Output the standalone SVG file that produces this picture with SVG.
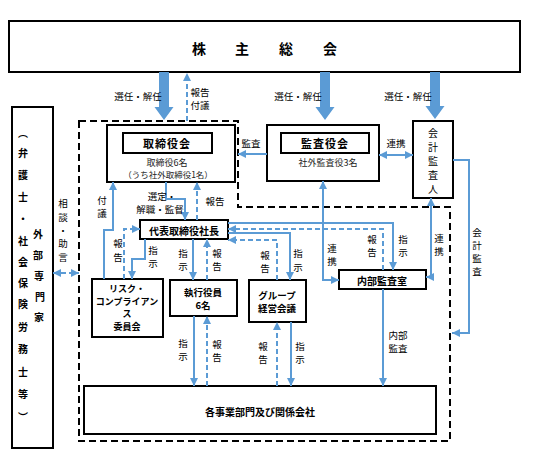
<svg xmlns="http://www.w3.org/2000/svg" width="540" height="458" viewBox="0 0 540 458">
<defs>
<style>
text{font-family:"Noto Sans CJK JP","Noto Sans",sans-serif;dominant-baseline:central;text-anchor:middle;fill:#000}
.box{fill:#fff;stroke:#000;stroke-width:2}
.in{fill:#fff;stroke:#000;stroke-width:2}
.ln{fill:none;stroke:#5B9BD5;stroke-width:2}
.ds{stroke-dasharray:5,3}
.big{fill:#5B9BD5}
.lb{font-size:9.5px;fill:#333}
.t{font-size:10px;font-weight:bold}
.s{font-size:9px;fill:#222}
.bound{fill:none;stroke:#000;stroke-width:2;stroke-dasharray:7,4}
</style>
<marker id="ah" viewBox="0 0 10 10" refX="10" refY="5" markerWidth="8" markerHeight="8" markerUnits="userSpaceOnUse" orient="auto-start-reverse">
<path d="M0,0L10,5L0,10z" fill="#5B9BD5"/>
</marker>
</defs>
<rect width="540" height="458" fill="#fff"/>

<path id="boundary" class="bound" d="M79,121 H238 V207 H450 V441 H79 Z"/>

<g id="shareholders">
<rect class="box" x="9" y="21" width="511" height="51"/>
<text style="font-size:14px;font-weight:bold"><tspan x="199" y="48">株</tspan><tspan x="242" y="48">主</tspan><tspan x="286" y="48">総</tspan><tspan x="330" y="48">会</tspan></text>
</g>

<g id="external">
<rect class="box" x="12" y="107" width="41" height="341"/>
<text class="t"><tspan x="23" y="132">︵</tspan><tspan x="23" y="152">弁</tspan><tspan x="23" y="174">護</tspan><tspan x="23" y="196">士</tspan><tspan x="23" y="218">・</tspan><tspan x="23" y="240">社</tspan><tspan x="23" y="261">会</tspan><tspan x="23" y="282">保</tspan><tspan x="23" y="303">険</tspan><tspan x="23" y="326">労</tspan><tspan x="23" y="348">務</tspan><tspan x="23" y="371">士</tspan><tspan x="23" y="393">等</tspan><tspan x="23" y="416">︶</tspan></text>
<text class="t"><tspan x="38" y="233">外</tspan><tspan x="38" y="254">部</tspan><tspan x="39" y="275">専</tspan><tspan x="40" y="296">門</tspan><tspan x="39" y="316">家</tspan></text>
</g>

<g id="board">
<rect class="box" x="107" y="125" width="128" height="57"/>
<rect class="in" x="123" y="133" width="89" height="20"/>
<text x="167" y="143" style="font-size:11px;font-weight:bold;letter-spacing:1px">取締役会</text>
<text class="s"><tspan x="167" y="161.5">取締役6名</tspan><tspan x="168" y="174" style="font-size:8.5px">（うち社外取締役1名）</tspan></text>
</g>

<g id="auditboard">
<rect class="box" x="267" y="125" width="112" height="56"/>
<rect class="in" x="281" y="133" width="88" height="20"/>
<text x="325" y="143" style="font-size:11px;font-weight:bold;letter-spacing:1px">監査役会</text>
<text x="328" y="162" class="s">社外監査役3名</text>
</g>

<g id="accountant">
<rect class="box" x="413" y="121" width="40" height="77"/>
<text style="font-size:10px"><tspan x="433" y="132">会</tspan><tspan x="433" y="146">計</tspan><tspan x="433" y="160">監</tspan><tspan x="433" y="174">査</tspan><tspan x="433" y="188">人</tspan></text>
</g>

<g id="president">
<rect class="box" x="140" y="220" width="88" height="19"/>
<text x="184" y="230" class="t">代表取締役社長</text>
</g>

<g id="risk">
<rect class="box" x="92" y="279" width="71" height="58"/>
<text style="font-size:9px;font-weight:bold"><tspan x="127" y="288">リスク・</tspan><tspan x="127" y="300.5">コンプライアン</tspan><tspan x="127" y="313">ス</tspan><tspan x="127" y="325.5">委員会</tspan></text>
</g>

<g id="officers">
<rect class="box" x="170" y="280" width="67" height="36"/>
<text class="t" style="font-size:9.5px"><tspan x="203" y="291.5">執行役員</tspan><tspan x="203" y="304.5">6名</tspan></text>
</g>

<g id="group">
<rect class="box" x="249" y="280" width="57" height="42"/>
<text class="t" style="font-size:9.5px"><tspan x="277" y="295">グループ</tspan><tspan x="277" y="308">経営会議</tspan></text>
</g>

<g id="internalaudit">
<rect class="box" x="339" y="270" width="87" height="19"/>
<text x="382" y="280" class="t">内部監査室</text>
</g>

<g id="divisions">
<rect class="box" x="84" y="386" width="352" height="48"/>
<text x="260" y="411" class="t">各事業部門及び関係会社</text>
</g>

<g id="connectors">
<polygon class="big" points="159,72 169,72 169,107 173.5,107 164,120 154.5,107 159,107"/>
<polygon class="big" points="320,72 330,72 330,107 334.5,107 325,120 315.5,107 320,107"/>
<polygon class="big" points="430,72 440,72 440,106 444.5,106 435,119 425.5,106 430,106"/>
<path class="ln ds" d="M187,121 V73" marker-end="url(#ah)"/>
<path class="ln" d="M267,154 H238" marker-end="url(#ah)"/>
<path class="ln" d="M379,155 H413" marker-start="url(#ah)" marker-end="url(#ah)"/>
<path class="ln" d="M453,160 H469 V333 H452" marker-end="url(#ah)"/>
<path class="ln" d="M166,182 V199 H185 V220" marker-end="url(#ah)"/>
<path class="ln ds" d="M197,220 V182" marker-end="url(#ah)"/>
<path class="ln" d="M104,279 V230 H113 V182" marker-end="url(#ah)"/>
<path class="ln ds" d="M124,279 V229 H140" marker-end="url(#ah)"/>
<path class="ln" d="M145,239 V259 H132 V279" marker-end="url(#ah)"/>
<path class="ln" d="M193,239 V280" marker-end="url(#ah)"/>
<path class="ln ds" d="M207,280 V239" marker-end="url(#ah)"/>
<path class="ln" d="M228,223 H393 V270" marker-end="url(#ah)"/>
<path class="ln ds" d="M383,270 V229 H228" marker-end="url(#ah)"/>
<path class="ln" d="M228,233 H290 V280" marker-end="url(#ah)"/>
<path class="ln ds" d="M277,280 V240 H228" marker-end="url(#ah)"/>
<path class="ln" d="M323,181 V280 H339" marker-start="url(#ah)" marker-end="url(#ah)"/>
<path class="ln" d="M431,198 V277 H426" marker-start="url(#ah)" marker-end="url(#ah)"/>
<path class="ln" d="M383,289 V386" marker-end="url(#ah)"/>
<path class="ln" d="M194,316 V386" marker-end="url(#ah)"/>
<path class="ln ds" d="M207,386 V316" marker-end="url(#ah)"/>
<path class="ln ds" d="M277,386 V322" marker-end="url(#ah)"/>
<path class="ln" d="M291,322 V386" marker-end="url(#ah)"/>
<path class="ln ds" d="M53,273 H79" stroke-dasharray="4,3" marker-start="url(#ah)" marker-end="url(#ah)"/>
</g>

<g id="labels" class="lb">
<text x="138" y="96">選任・解任</text>
<text x="298" y="96">選任・解任</text>
<text x="408" y="96">選任・解任</text>
<text><tspan x="200" y="91.5">報告</tspan><tspan x="200" y="104.5">付議</tspan></text>
<text x="251" y="143">監査</text>
<text x="396" y="143">連携</text>
<text><tspan x="477" y="232">会</tspan><tspan x="477" y="245">計</tspan><tspan x="477" y="258">監</tspan><tspan x="477" y="271">査</tspan></text>
<text><tspan x="162" y="196">選定・</tspan><tspan x="160" y="209">解職・監督</tspan></text>
<text x="215" y="201">報告</text>
<text><tspan x="102" y="200">付</tspan><tspan x="102" y="213">議</tspan></text>
<text><tspan x="118" y="243">報</tspan><tspan x="118" y="257">告</tspan></text>
<text><tspan x="153" y="250">指</tspan><tspan x="153" y="263">示</tspan></text>
<text><tspan x="183" y="253">指</tspan><tspan x="183" y="266">示</tspan></text>
<text><tspan x="217" y="253">報</tspan><tspan x="217" y="266">告</tspan></text>
<text><tspan x="265" y="255">報</tspan><tspan x="265" y="268">告</tspan></text>
<text><tspan x="298" y="253">指</tspan><tspan x="298" y="267">示</tspan></text>
<text><tspan x="332" y="248">連</tspan><tspan x="332" y="261">携</tspan></text>
<text><tspan x="372" y="239">報</tspan><tspan x="372" y="252">告</tspan></text>
<text><tspan x="403" y="239">指</tspan><tspan x="403" y="252">示</tspan></text>
<text><tspan x="439" y="238">連</tspan><tspan x="439" y="251">携</tspan></text>
<text><tspan x="398" y="335">内部</tspan><tspan x="398" y="348">監査</tspan></text>
<text><tspan x="183" y="343">指</tspan><tspan x="183" y="356">示</tspan></text>
<text><tspan x="217" y="344">報</tspan><tspan x="217" y="357">告</tspan></text>
<text><tspan x="263" y="346">報</tspan><tspan x="263" y="359">告</tspan></text>
<text><tspan x="300" y="346">指</tspan><tspan x="300" y="359">示</tspan></text>
<text><tspan x="63" y="203">相</tspan><tspan x="63" y="217">談</tspan><tspan x="63" y="230">・</tspan><tspan x="63" y="243">助</tspan><tspan x="63" y="257">言</tspan></text>
</g>
</svg>
